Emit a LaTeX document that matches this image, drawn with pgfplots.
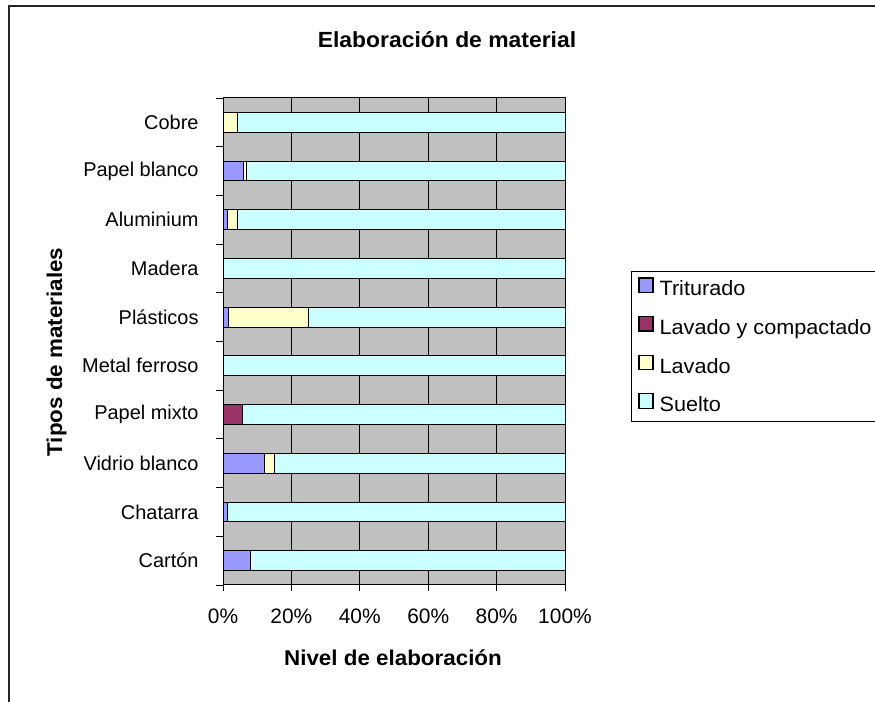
\documentclass[border=0pt]{standalone}
\usepackage{fontspec}
\setmainfont{Liberation Sans}
\newfontfamily\wide[FakeStretch=1.045]{Liberation Sans}
\usepackage{pgfplots}
\pgfplotsset{compat=1.18}
\definecolor{trit}{HTML}{9999FF}
\definecolor{lavcomp}{HTML}{993366}
\definecolor{lav}{HTML}{FFFFCC}
\definecolor{suel}{HTML}{CCFFFF}
\definecolor{plotgray}{HTML}{C0C0C0}
\begin{document}
\begin{tikzpicture}
\useasboundingbox (0,0) rectangle (875bp,702bp);
\begin{scope}
\clip (0,0) rectangle (875bp,702bp);
\fill[white] (0,0) rectangle (875bp,702bp);
\draw[black!85, line width=1.5bp] (9bp,-10bp) -- (9bp,696bp) -- (890bp,696bp);
\begin{axis}[
  at={(223bp,117bp)}, anchor=south west,
  scale only axis, width=342bp, height=487bp,
  xbar stacked, bar width=0.405,
  xmin=0, xmax=100, ymin=-0.5, ymax=9.5,
  xtick={0,20,...,100},
  xticklabels={0\%,20\%,40\%,60\%,80\%,100\%},
  ytick={0,...,9},
  yticklabels={Cartón,Chatarra,Vidrio blanco,Papel mixto,Metal ferroso,Plásticos,Madera,Aluminium,Papel blanco,Cobre},
  minor ytick={-0.5,0.5,...,9.5},
  tick align=outside, xtick pos=bottom, ytick pos=left,
  major tick length=6bp, minor tick length=7bp,
  major y tick style={draw=none},
  minor y tick style={black, line width=0.8bp},
  major x tick style={black, line width=0.8bp},
  xmajorgrids, major grid style={black, line width=0.8bp},
  axis background/.style={fill=plotgray},
  axis line style={black, line width=1bp},
  yticklabel style={font=\fontsize{20}{24}\selectfont},
  yticklabel shift=15bp,
  xticklabel style={font=\fontsize{21}{25}\selectfont},
  xticklabel shift=14bp,
  /pgf/number format/assume math mode=true,
  legend cell align=left,
  legend style={at={(1.193,0.6448)}, anchor=north west, draw=black, line width=0.8bp, fill=white,
    inner xsep=7bp, inner ysep=6bp, row sep=16bp, font=\wide\fontsize{20.8}{24}\selectfont,
    nodes={inner sep=0pt, text height=15bp, text depth=4bp},
    /tikz/every odd column/.append style={column sep=6bp}},
  legend image code/.code={\draw[#1, draw=black, line width=1.2bp] (0bp,-2bp) rectangle (14bp,12.5bp);},
]
\addplot[fill=trit, draw=black, line width=1bp] coordinates {(8.1,0) (1.2,1) (12.2,2) (0,3) (0,4) (1.7,5) (0,6) (1.2,7) (5.9,8) (0,9)};
\addplot[fill=lavcomp, draw=black, line width=1bp] coordinates {(0,0) (0,1) (0,2) (5.8,3) (0,4) (0,5) (0,6) (0,7) (0,8) (0,9)};
\addplot[fill=lav, draw=black, line width=1bp] coordinates {(0,0) (0,1) (3.0,2) (0,3) (0,4) (23.4,5) (0,6) (2.9,7) (0.9,8) (4.1,9)};
\addplot[fill=suel, draw=black, line width=1bp] coordinates {(91.9,0) (98.8,1) (84.8,2) (94.2,3) (100,4) (74.9,5) (100,6) (95.9,7) (93.2,8) (95.9,9)};
\addlegendentry{\makebox[240bp][l]{Triturado}}
\addlegendentry{\makebox[240bp][l]{Lavado y compactado}}
\addlegendentry{\makebox[240bp][l]{Lavado}}
\addlegendentry{\makebox[240bp][l]{Suelto}}
\end{axis}
\node[anchor=base, font=\wide\fontsize{22}{26}\selectfont\bfseries] at (447bp,654bp) {Elaboración de material};
\node[anchor=base, font=\wide\fontsize{21.5}{26}\selectfont\bfseries] at (393bp,37bp) {Nivel de elaboración};
\node[anchor=base, rotate=90, font=\wide\fontsize{21.5}{26}\selectfont\bfseries] at (62bp,350bp) {Tipos de materiales};
\end{scope}
\end{tikzpicture}
\end{document}
